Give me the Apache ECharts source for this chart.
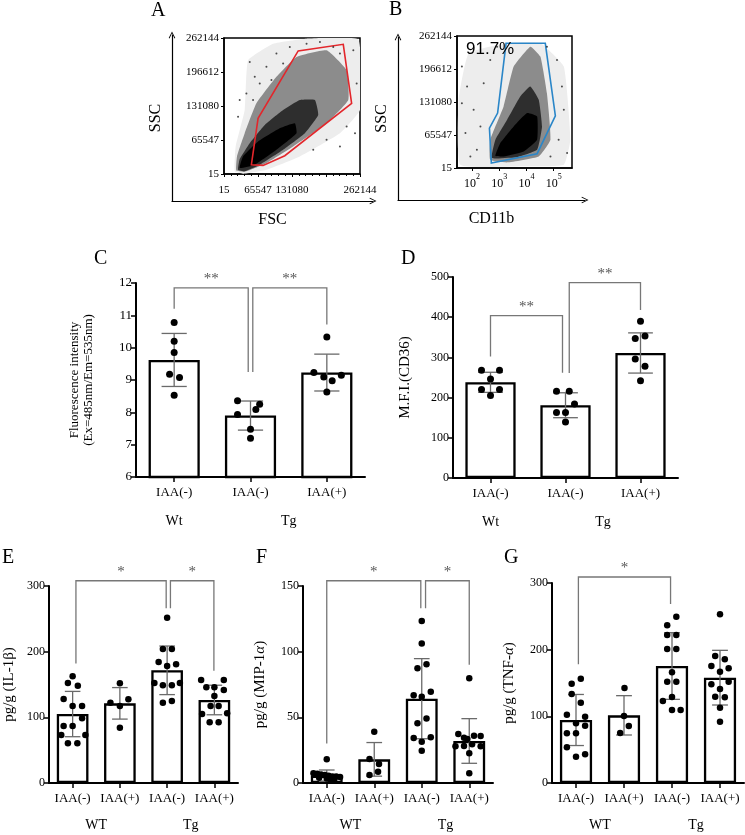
<!DOCTYPE html>
<html><head><meta charset="utf-8">
<script src="https://cdn.jsdelivr.net/npm/echarts@6/dist/echarts.min.js"></script>
<style>html,body{margin:0;padding:0;background:#fff}#c{width:745px;height:835px}</style>
</head><body><div id="c"></div>
<script>
// ================= DATA =================
// Flow cytometry panels (A, B)
const flowTickLabels = ['15','65547','131080','196612','262144'];
const aXTickLabels   = ['15','65547','131080','','262144'];
const bXDecades      = [2,3,4,5];
// density layers, A: [FSC, SSC]
const aCloudOuter = [[20600,5100],[22500,53100],[39900,123400],[46400,219300],[94700,251300],[159100,260900],[258900,259000],[262000,123400],[223500,78600],[146200,33900],[81800,8300],[36700,600]];
const aCloudMid   = [[23800,7000],[25100,33900],[39900,78600],[62500,136200],[101100,187300],[139800,225700],[197700,238500],[236400,200100],[239600,142600],[197700,97800],[133300,53100],[81800,21100],[43200,5100]];
const aCloudCore  = [[27100,8300],[30300,28800],[49600,59500],[78600,94600],[114000,123400],[146200,142600],[175200,142600],[181600,113800],[155900,78600],[114000,46700],[68900,17900],[39900,5100]];
const aCloudDense = [[30300,11500],[36700,33900],[65700,62700],[107600,88200],[136600,97800],[139800,78600],[101100,46700],[59300,17900]];
const aSpeckles = [[49600,216100],[59300,187300],[68900,174600],[81800,206500],[30300,142600],[43200,155400],[27100,110600],[56000,142600],[101100,232100],[114000,212900],[126900,244900],[91500,181000],[249300,238500],[255700,174600],[223500,232100],[236400,91400],[252500,78600],[197700,65900],[172000,46700],[223500,53100],[184900,254500],[210600,244900],[159100,251300]];
const aGate = [[52800,17900],[65700,107400],[143000,237200],[229900,250000],[246000,136200],[117200,35200],[75400,16600]];
// B: [log10(CD11b), SSC]
const bCloudOuter = [[1.57,6600],[1.51,135400],[1.88,227800],[3.29,247600],[4.51,247600],[5.37,201400],[5.61,56100],[5.37,6600],[3.90,3300]];
const bCloudMid   = [[2.67,16500],[2.67,56100],[3.16,122200],[3.53,201400],[4.14,241000],[4.51,221200],[4.75,148600],[4.88,56100],[4.45,23100],[3.29,11200]];
const bCloudCore  = [[2.73,19800],[2.86,56100],[3.29,95700],[3.77,142000],[4.14,161800],[4.45,135400],[4.57,82500],[4.39,36300],[3.65,21800]];
const bCloudDense = [[2.86,24400],[3.04,49500],[3.53,82500],[4.02,109000],[4.39,102300],[4.39,56100],[3.90,33000],[3.16,23100]];
const bSpeckles = [[1.63,201400],[1.82,161800],[2.06,115600],[1.76,69300],[2.18,36300],[1.94,23100],[2.43,168400],[2.67,214600],[2.92,241000],[4.75,241000],[5.12,214600],[5.30,161800],[5.37,115600],[5.18,56100],[4.88,23100],[5.49,29700],[2.31,82500],[1.63,128800]];
const bGate = [[3.25,247600],[4.69,247600],[5.06,103700],[4.39,28400],[2.71,9900],[2.64,79200],[2.94,109000]];
const bGatePercent = '91.7%';

// Panel C
const cCats = ['IAA(-)','IAA(-)','IAA(+)'];
const cGroups = ['Wt','Tg']; const cGroupCenters = [0,1.5];
const cMeans = [9.62,7.9,9.23];
const cSDs   = [0.82,0.45,0.57];
const cDots  = [[10.78,10.2,9.85,9.18,9.08,8.53],[8.36,8.25,7.93,8.09,7.48,7.2],[10.33,9.23,9.09,8.98,9.15,8.63]];
const cJitter= [[0,0,0,-0.06,0.07,0],[-0.17,0.12,-0.17,0.07,0,0],[0,-0.17,-0.04,0.07,0.19,0]];
const cBrackets = [[0,0.97,11.85,11.2,9.25],[1.03,2,11.85,9.25,10.72]];
const cStars = ['**','**'];

// Panel D
const dCats = ['IAA(-)','IAA(-)','IAA(+)'];
const dGroups = ['Wt','Tg']; const dGroupCenters = [0,1.5];
const dMeans = [238,181,311];
const dSDs   = [25,31,50];
const dDots  = [[268,268,246,220,220,205],[215.6,215.6,184,163,163,139],[390,347,353,296,278,242]];
const dJitter= [[-0.12,0.12,0,-0.12,0.12,0],[-0.12,0.05,0.12,-0.12,0,0],[0,-0.07,0.06,-0.07,0.06,0]];
const dBrackets = [[0,0.96,404,302,262],[1.05,2,486,261,418]];
const dStars = ['**','**'];

// Panels E, F, G
const efgCats = ['IAA(-)','IAA(+)','IAA(-)','IAA(+)'];
const efgGroups = ['WT','Tg']; const efgGroupCenters = [0.5,2.5];

const eMeans = [105,121.3,171.6,126.4];
const eSDs   = [34.5,24,37,22.5];
const eDots  = [
  [162.4,152.3,148.2,127.9,117.3,117.3,98.5,86.8,86.8,73.1,73.1,60.4,60.4],
  [151.8,122.3,117.3,127.4,84.3],
  [251.8,204,204,184.3,178.2,180.7,152.3,148.7,148.7,152.3,122.3,124.9],
  [156.9,156.9,145.7,145.7,141.6,132.5,117.3,117.3,105.1,106.1,92.4,92.4]];
const eJitter = [
  [0,-0.1,0.11,-0.19,0.2,0,0.2,-0.19,0,-0.24,0.27,-0.1,0.1],
  [0,-0.2,0,0.18,0],
  [0,-0.09,0.1,-0.18,0,0.19,-0.27,-0.09,0.1,0.27,-0.09,0.1],
  [-0.28,0.2,-0.17,0,0.2,0,-0.08,0.09,-0.26,0.27,-0.1,0.09]];
const eBrackets = [[0.07,1.98,308,182,266],[2.07,2.99,308,266,171]];
const eStars = ['*','*'];

const fMeans = [5.6,18,64.2,32];
const fSDs   = [4.3,12.8,30.5,17];
const fDots  = [
  [18,7.5,7,6.5,6,5.5,5,5,4.5,4,3.5,3,2.5],
  [39.1,18.3,14.5,6.1,8.6],
  [123.4,106.3,87.3,90.4,66.8,65.7,69.5,49.2,45.4,34.3,31.5,34.8,24.6],
  [79.7,37.3,34.5,36,35.8,27.9,28.2,29.5,27.9,22.6,7.4,33.5]];
const fJitter = [
  [0,-0.28,-0.2,-0.12,-0.04,0.04,0.12,0.2,0.28,-0.16,0,0.16,0.08],
  [0,-0.1,0.1,-0.1,0.08],
  [0,0,-0.09,0.1,-0.17,0,0.19,0.1,-0.09,-0.17,0,0.19,0],
  [0,-0.23,-0.11,0.1,0.24,-0.29,-0.11,0.06,0.24,0,0,-0.04]];
const fBrackets = [[0,1.98,154,30,133],[2.08,3,154,133,90]];
const fStars = ['*','*'];

const gMeans = [94.5,101.5,175.5,158];
const gSDs   = [38.3,29.5,50,41];
const gDots  = [
  [156.5,149,133.5,120.5,102.5,99.5,89.5,86,74.5,74.5,53.5,43,39.5],
  [142.5,100.5,85.5,75],
  [249.5,236.5,222,222,201,201,166,152,152,129,123,109.5,109.5],
  [253,190.5,185.5,175.5,167,172,148,141,152,129.5,128.5,113,92]];
const gJitter = [
  [0.1,-0.09,-0.09,0.1,-0.19,0.19,0,0.19,-0.19,0,-0.19,0.19,0],
  [0.01,0,0.1,-0.08],
  [0.09,-0.1,-0.1,0.09,-0.1,0.09,0,-0.1,0.09,0,-0.19,0,0.18],
  [0,-0.1,0.1,-0.18,0,0.18,-0.18,0,0.18,-0.1,0.1,0,0]];
const gBrackets = [[0.05,1.97,309,178,268.5]];
const gStars = ['*'];

// ================= BUILD =================
const SERIF = 'Liberation Serif';
const ARROW = 'path://M0,10 L5,0 L10,10 L8.8,10.6 L5,2.6 L1.2,10.6 Z';
const grids=[], xAxes=[], yAxes=[], series=[];

function polyLayer(xi, yi, pts, style, smooth){
  return {type:'custom', xAxisIndex:xi, yAxisIndex:yi, silent:true, clip:true, data:pts, encode:{x:0,y:1},
    renderItem:(params, api)=>{
      if (params.dataIndex !== 0) return null;
      return {type:'polygon', shape:{points:pts.map(p=>api.coord(p)), smooth:smooth||0}, style:style};
    }};
}

function addFlow(p){
  const go = grids.length;
  grids.push({left:p.outer[0], top:p.outer[1], width:p.outer[2], height:p.outer[3]});
  const arrowLine = {show:true, onZero:false, lineStyle:{color:'#000', width:1.2}, symbol:['none', ARROW], symbolSize:[9,7]};
  const nameStyle = {fontFamily:SERIF, fontSize:16, color:'#000'};
  xAxes.push({gridIndex:go, type:'value', min:0, max:1, name:p.xName, nameLocation:'middle', nameGap:p.xNameGap,
    nameTextStyle:nameStyle, axisLine:arrowLine, axisTick:{show:false}, axisLabel:{show:false}, splitLine:{show:false}});
  yAxes.push({gridIndex:go, type:'value', min:0, max:1, name:p.yName, nameLocation:'middle', nameGap:p.yNameGap,
    nameTextStyle:nameStyle, axisLine:arrowLine, axisTick:{show:false}, axisLabel:{show:false}, splitLine:{show:false}});
  const gi = grids.length;
  grids.push({left:p.inner[0], top:p.inner[1], width:p.inner[2], height:p.inner[3], show:true, borderColor:'#000', borderWidth:1.5, backgroundColor:'#fff'});
  const xi = xAxes.length, yi = yAxes.length;
  xAxes.push(Object.assign({gridIndex:gi}, p.xAxis));
  yAxes.push({gridIndex:gi, type:'value', min:15, max:262144, interval:65532.25,
    axisLine:{show:true, onZero:false, lineStyle:{color:'#000', width:1.5}},
    axisTick:{show:true, length:3, lineStyle:{color:'#000'}},
    axisLabel:{fontFamily:SERIF, fontSize:11, color:'#000', margin:5,
      formatter:(v)=>flowTickLabels[Math.round((v-15)/65532.25)]},
    splitLine:{show:false}});
  series.push(polyLayer(xi, yi, p.layers[0], {fill:'#ededed'}, 0.12));
  series.push(polyLayer(xi, yi, p.layers[1], {fill:'#8c8c8c'}, 0.12));
  series.push(polyLayer(xi, yi, p.layers[2], {fill:'#2e2e2e'}, 0.12));
  series.push(polyLayer(xi, yi, p.layers[3], {fill:'#000'}, 0.12));
  series.push({type:'scatter', xAxisIndex:xi, yAxisIndex:yi, data:p.speckles, symbolSize:2, silent:true,
    itemStyle:{color:'#222'}});
  series.push(polyLayer(xi, yi, p.gate, {fill:'none', stroke:p.gateColor, lineWidth:1.6}, 0));
}

addFlow({
  outer:[172,35,201,166], inner:[224,38,136,136],
  xName:'FSC', xNameGap:11, yName:'SSC', yNameGap:8,
  xAxis:{type:'value', min:15, max:262144, interval:65532.25,
    axisLine:{show:true, onZero:false, lineStyle:{color:'#000', width:1.5}},
    axisTick:{show:true, length:3, lineStyle:{color:'#000'}},
    minorTick:{show:true, splitNumber:5, length:2, lineStyle:{color:'#000'}},
    axisLabel:{fontFamily:SERIF, fontSize:11, color:'#000', margin:11,
      formatter:(v)=>aXTickLabels[Math.round((v-15)/65532.25)]},
    splitLine:{show:false}},
  layers:[aCloudOuter,aCloudMid,aCloudCore,aCloudDense], speckles:aSpeckles, gate:aGate, gateColor:'#e3262b'
});
addFlow({
  outer:[398,37,187,163], inner:[457,36,115,132],
  xName:'CD11b', xNameGap:11, yName:'SSC', yNameGap:8,
  xAxis:{type:'value', min:1.45, max:5.67,
    axisLine:{show:true, onZero:false, lineStyle:{color:'#000', width:1.5}},
    axisTick:{show:true, length:3, customValues:bXDecades, lineStyle:{color:'#000'}},
    axisLabel:{customValues:bXDecades, margin:5, formatter:(v)=>'{b|10}{s|'+v+'}',
      rich:{b:{fontFamily:SERIF, fontSize:12, color:'#000', lineHeight:17, verticalAlign:'bottom'},
            s:{fontFamily:SERIF, fontSize:8, color:'#000', lineHeight:17, verticalAlign:'top'}}},
    splitLine:{show:false}},
  layers:[bCloudOuter,bCloudMid,bCloudCore,bCloudDense], speckles:bSpeckles, gate:bGate, gateColor:'#2a86c8'
});

function addBarPanel(p){
  const g = grids.length;
  grids.push({left:p.box[0], top:p.box[1], width:p.box[2], height:p.box[3]});
  const xc = xAxes.length;
  xAxes.push({gridIndex:g, type:'category', data:p.cats, position:'bottom',
    axisLine:{show:true, onZero:false, lineStyle:{color:'#000', width:2}},
    axisTick:{show:true, alignWithLabel:true, length:5, lineStyle:{color:'#000', width:1.5}},
    axisLabel:{fontFamily:SERIF, fontSize:13, color:'#000', margin:9, interval:0},
    splitLine:{show:false}});
  const xv = xAxes.length;
  xAxes.push({gridIndex:g, type:'value', position:'bottom', min:-0.5, max:p.cats.length-0.5,
    axisLine:{show:false, onZero:false}, axisTick:{show:false}, splitLine:{show:false},
    axisLabel:{customValues:p.groupCenters, fontFamily:SERIF, fontSize:14, color:'#000', margin:p.groupMargin,
      formatter:(v)=>{const i=p.groupCenters.indexOf(v); return i>=0?p.groups[i]:'';}}});
  const y = yAxes.length;
  yAxes.push({gridIndex:g, type:'value', min:p.yMin, max:p.yMax, interval:p.yInterval,
    name:p.yName, nameLocation:'middle', nameGap:p.nameGap,
    nameTextStyle:{fontFamily:SERIF, fontSize:p.nameSize, color:'#000', lineHeight:p.nameSize+1,
      rich:{i:{fontFamily:SERIF, fontSize:p.nameSize, fontStyle:'italic', color:'#000'}}},
    axisLine:{show:true, onZero:false, lineStyle:{color:'#000', width:2}},
    axisTick:{show:true, length:5, lineStyle:{color:'#000', width:1.5}},
    axisLabel:{fontFamily:SERIF, fontSize:p.labelSize, color:'#000', margin:4},
    splitLine:{show:false}});
  series.push({type:'bar', xAxisIndex:xc, yAxisIndex:y, data:p.means, barWidth:'67%', silent:true,
    itemStyle:{color:'#fff', borderColor:'#000', borderWidth:2.3}, z:2});
  series.push({type:'custom', xAxisIndex:xv, yAxisIndex:y, z:3, silent:true,
    data:p.means.map((m,i)=>[i,m,p.sds[i]]), encode:{x:0,y:1},
    renderItem:(params, api)=>{
      const i=api.value(0), m=api.value(1), s=api.value(2);
      const t=api.coord([i,m+s]), b=api.coord([i,m-s]);
      const hw=api.size([0.165,0])[0];
      const st={stroke:'#6a6a6a', lineWidth:1.3};
      return {type:'group', children:[
        {type:'line', shape:{x1:t[0],y1:t[1],x2:b[0],y2:b[1]}, style:st},
        {type:'line', shape:{x1:t[0]-hw,y1:t[1],x2:t[0]+hw,y2:t[1]}, style:st},
        {type:'line', shape:{x1:b[0]-hw,y1:b[1],x2:b[0]+hw,y2:b[1]}, style:st}]};
    }});
  const pts=[];
  p.dots.forEach((arr,i)=>arr.forEach((v,k)=>pts.push([i+p.jitter[i][k], v])));
  series.push({type:'scatter', xAxisIndex:xv, yAxisIndex:y, data:pts, symbolSize:p.dotSize, silent:true,
    itemStyle:{color:'#000', opacity:1}, z:4});
  series.push({type:'custom', xAxisIndex:xv, yAxisIndex:y, z:5, silent:true,
    data:p.brackets, encode:{x:[0,1], y:[2,3,4]},
    renderItem:(params, api)=>{
      const x1=api.value(0), x2=api.value(1), top=api.value(2), l1=api.value(3), l2=api.value(4);
      const a=api.coord([x1,l1]), b=api.coord([x1,top]), c=api.coord([x2,top]), d=api.coord([x2,l2]);
      return {type:'group', children:[
        {type:'polyline', shape:{points:[a,b,c,d]}, style:{stroke:'#777', lineWidth:1.3, fill:null}},
        {type:'text', style:{text:p.stars[params.dataIndex], x:(b[0]+c[0])/2, y:b[1]-1,
          align:'center', verticalAlign:'bottom', fill:'#555', font:'15px '+SERIF}}]};
    }});
}

addBarPanel({box:[136,283,229,194], cats:cCats, groups:cGroups, groupCenters:cGroupCenters, groupMargin:37,
  yMin:6, yMax:12, yInterval:1, yName:'Fluorescence intensity\n(Ex=485nm/Em=535nm)', nameGap:40, nameSize:13, labelSize:13,
  means:cMeans, sds:cSDs, dots:cDots, jitter:cJitter, brackets:cBrackets, stars:cStars, dotSize:7});
addBarPanel({box:[453,277,225,201], cats:dCats, groups:dGroups, groupCenters:dGroupCenters, groupMargin:37,
  yMin:0, yMax:500, yInterval:100, yName:'M.F.I.(CD36)', nameGap:40, nameSize:15, labelSize:12,
  means:dMeans, sds:dSDs, dots:dDots, jitter:dJitter, brackets:dBrackets, stars:dStars, dotSize:7});
addBarPanel({box:[47,586,191,197], cats:efgCats, groups:efgGroups, groupCenters:efgGroupCenters, groupMargin:35,
  yMin:0, yMax:300, yInterval:100, yName:'pg/g (IL-1β)', nameGap:32, nameSize:15, labelSize:12,
  means:eMeans, sds:eSDs, dots:eDots, jitter:eJitter, brackets:eBrackets, stars:eStars, dotSize:6.5});
addBarPanel({box:[303,586,190,197], cats:efgCats, groups:efgGroups, groupCenters:efgGroupCenters, groupMargin:35,
  yMin:0, yMax:150, yInterval:50, yName:'pg/g (MIP-1{i|α})', nameGap:35, nameSize:15, labelSize:12,
  means:fMeans, sds:fSDs, dots:fDots, jitter:fJitter, brackets:fBrackets, stars:fStars, dotSize:6.5});
addBarPanel({box:[552,583,192,200], cats:efgCats, groups:efgGroups, groupCenters:efgGroupCenters, groupMargin:35,
  yMin:0, yMax:300, yInterval:100, yName:'pg/g (TNF-{i|α})', nameGap:35, nameSize:15, labelSize:12,
  means:gMeans, sds:gSDs, dots:gDots, jitter:gJitter, brackets:gBrackets, stars:gStars, dotSize:6.5});

const letter = (t,l,tp)=>({type:'text', left:l, top:tp, silent:true, z:100, style:{text:t, font:'20px '+SERIF, fill:'#000'}});
const option = {
  backgroundColor:'#fff', animation:false,
  grid:grids, xAxis:xAxes, yAxis:yAxes, series:series,
  graphic:[
    letter('A',151,1), letter('B',389,0), letter('C',94,249), letter('D',401,249),
    letter('E',2,548), letter('F',256,548), letter('G',504,548),
    {type:'text', left:466, top:41, silent:true, z:100, style:{text:bGatePercent, font:'17px Liberation Sans', fill:'#000'}}
  ]
};
const chart = echarts.init(document.getElementById('c'));
chart.setOption(option);
</script></body></html>
